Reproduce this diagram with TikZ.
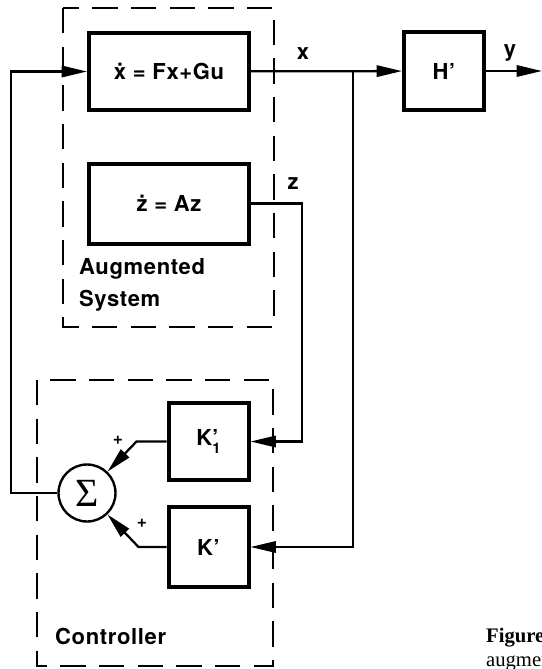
\documentclass[tikz,border=0pt]{standalone}
\usepackage{fontspec}
\setmainfont{TeX Gyre Heros}[LetterSpace=3]
\newfontfamily\capfont{Liberation Serif}
\usetikzlibrary{positioning,arrows.meta}

\begin{document}
\begin{tikzpicture}[x=0.75pt, y=-0.75pt, line width=1.7pt,
    blk/.style={draw, line width=3pt, minimum width=60pt, minimum height=58pt, inner sep=0pt,
    font=\fontsize{16.5}{18}\selectfont\bfseries},
    lbl/.style={inner sep=0pt, font=\fontsize{16.5}{24}\selectfont\bfseries},
    grp/.style={draw, line width=1.4pt, dash pattern=on 19pt off 10pt},
    sum/.style={draw, circle, line width=1.8pt, minimum size=42.75pt, inner sep=0pt, font=\capfont\fontsize{30}{30}\selectfont},
    >={Triangle[length=19pt, width=8.5pt]}]
    \useasboundingbox (0,0) rectangle (542,669);
    \clip (0,0) rectangle (542,669);
    % the two groups
    \draw[grp] (63,8) rectangle (274,327);
    \draw[grp] (37,380) rectangle (273,666);
    \node[blk, minimum width=120pt] (plant) at (169,71.5) {\.{x} = Fx+Gu};
    \node[blk, minimum width=120pt, minimum height=60pt] (aug) at (169,203.5) {\.{z} = Az};
    \node[blk] (out) at (444,71) {H’};
    \node[blk] (gain1) at (208.5,441.5) {K\rlap{’}\raisebox{-0.75ex}{\fontsize{11}{11}\selectfont 1}};
    \node[blk, minimum height=60pt] (gain) at (208.5,547) {K’};
    \node[sum] (sum) at (87,493) {Σ};
    \node[lbl, anchor=north west, align=left] (augtxt) at (78,257) {Augmented\\System};
    \node[lbl, anchor=west] (ctrltxt) at (54,636) {Controller};
    \node[lbl] (xlab) at (303,54) {x};
    \node[lbl] (zlab) at (293,184) {z};
    \node[lbl] (ylab) at (510,53) {y};
    \node[lbl, font=\fontsize{13}{13}\selectfont\bfseries] (p1) at (118,440) {+};
    \node[lbl, font=\fontsize{13}{13}\selectfont\bfseries] (p2) at (142,523) {+};
    \coordinate (br) at (353,71);
    \coordinate (yend) at (542,71);
    \draw[->] (sum.west) -- ++(-46.5,0) |- (plant.west);
    \draw[->] (plant) -- (out); \draw[->] (out) -- (yend);
    \draw[->] (br) |- (gain.east);
    \draw[->] (aug.east) -- ++(51,0) |- (gain1.east);
    \draw[->] (gain1.west) -- ++(-30,0) -- (sum);
    \draw[->] (gain.west) -- ++(-28,0) -- (sum);
    % caption, cut at the right edge
    \node[anchor=base west, inner sep=0pt, font=\capfont\fontsize{15.5}{18}\selectfont] (cap1) at (485,642) {\textbf{Figure 4.}};
    \node[anchor=base west, inner sep=0pt, font=\capfont\fontsize{15.5}{18}\selectfont] (cap2) at (485,666) {augmented};
\end{tikzpicture}
\end{document}
